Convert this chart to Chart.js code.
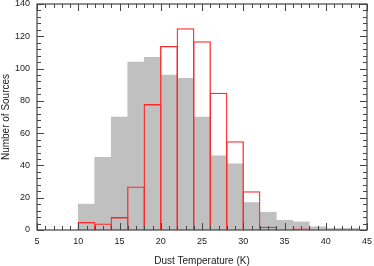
<!DOCTYPE html>
<html><head><meta charset="utf-8">
<script src="https://cdn.jsdelivr.net/npm/chart.js@4/dist/chart.umd.min.js"></script>
<style>html,body{margin:0;padding:0;background:#fff;}#wrap{width:374px;height:266px;}</style>
</head><body><div id="wrap"><canvas id="c" width="374" height="266"></canvas></div>
<script>
// Histogram bins (bin centres, width 2 K)
const allCenters = [11,13,15,17,19,21,23,25,27,29,31,33,35,37,39,41,43];
const allSources = [16,45,70,104,107,96,94,70,46,41,17,11,6,5,2,1,1];
const subCenters = [11,13,15,17,19,21,23,25,27,29,31,33,35,37];
const subSources = [5,4,8,27,78,114,125,117,85,55,24,2,0,1];
const xMin = 5, xMax = 45, xMajor = 5, xMinor = 1;
const yMin = 0, yMax = 140, yMajor = 20, yMinor = 4;

const toPoints = (cs, vs) => cs.map((c, i) => ({x: c, y: vs[i] === 0 ? null : vs[i]}));

const framePlugin = {
  id: 'frame',
  afterDatasetsDraw(chart) {
    const {ctx, chartArea: a, scales: {x, y}} = chart;
    ctx.save();
    ctx.strokeStyle = '#444';
    ctx.lineWidth = 1.2;
    ctx.strokeRect(a.left, a.top, a.right - a.left, a.bottom - a.top);
    ctx.lineWidth = 1;
    ctx.beginPath();
    for (let v = xMin; v <= xMax; v += xMinor) {
      const p = Math.round(x.getPixelForValue(v)) + 0.5;
      const len = v % xMajor === 0 ? 7 : 4;
      ctx.moveTo(p, a.bottom); ctx.lineTo(p, a.bottom - len);
      ctx.moveTo(p, a.top); ctx.lineTo(p, a.top + len);
    }
    for (let v = yMin; v <= yMax; v += yMinor) {
      const p = Math.round(y.getPixelForValue(v)) + 0.5;
      const len = v % yMajor === 0 ? 7 : 4;
      ctx.moveTo(a.left, p); ctx.lineTo(a.left + len, p);
      ctx.moveTo(a.right, p); ctx.lineTo(a.right - len, p);
    }
    ctx.stroke();
    ctx.restore();
  }
};

const bw = 1.3;
new Chart(document.getElementById('c'), {
  type: 'bar',
  data: {
    datasets: [
      {
        label: 'subset',
        data: toPoints(subCenters, subSources),
        backgroundColor: 'rgba(0,0,0,0)',
        borderColor: 'rgb(255,40,40)',
        borderWidth: bw,
        grouped: false,
        order: 0,
        categoryPercentage: 1,
        barPercentage: 1 + bw / 16.5
      },
      {
        label: 'all',
        data: toPoints(allCenters, allSources),
        backgroundColor: '#c0c0c0',
        borderWidth: 0,
        grouped: false,
        order: 1,
        categoryPercentage: 1,
        barPercentage: 1
      }
    ]
  },
  options: {
    responsive: false,
    animation: false,
    devicePixelRatio: 1,
    layout: {padding: {top: 4, right: 7, left: 0, bottom: 0}},
    plugins: {legend: {display: false}, tooltip: {enabled: false}},
    scales: {
      x: {
        type: 'linear', min: xMin, max: xMax, offset: false,
        grid: {display: false, drawTicks: false},
        border: {display: false},
        ticks: {stepSize: xMajor, padding: 6, color: '#222', maxRotation: 0,
                font: {family: 'Liberation Sans, Arial, sans-serif', size: 9}},
        title: {display: true, text: 'Dust Temperature (K)', color: '#222', padding: 0,
                font: {family: 'Liberation Sans, Arial, sans-serif', size: 10, lineHeight: 1}},
        afterFit: s => { s.height = 36; s.paddingLeft = 0; s.paddingRight = 0; }
      },
      y: {
        min: yMin, max: yMax,
        grid: {display: false, drawTicks: false},
        border: {display: false},
        ticks: {stepSize: yMajor, padding: 7, color: '#222',
                font: {family: 'Liberation Sans, Arial, sans-serif', size: 9}},
        title: {display: true, text: 'Number of Sources', color: '#222', padding: 0,
                font: {family: 'Liberation Sans, Arial, sans-serif', size: 10, lineHeight: 1.2}},
        afterFit: s => { s.width = 37; s.paddingTop = 0; s.paddingBottom = 0; }
      }
    }
  },
  plugins: [framePlugin]
});
</script>
</body></html>
